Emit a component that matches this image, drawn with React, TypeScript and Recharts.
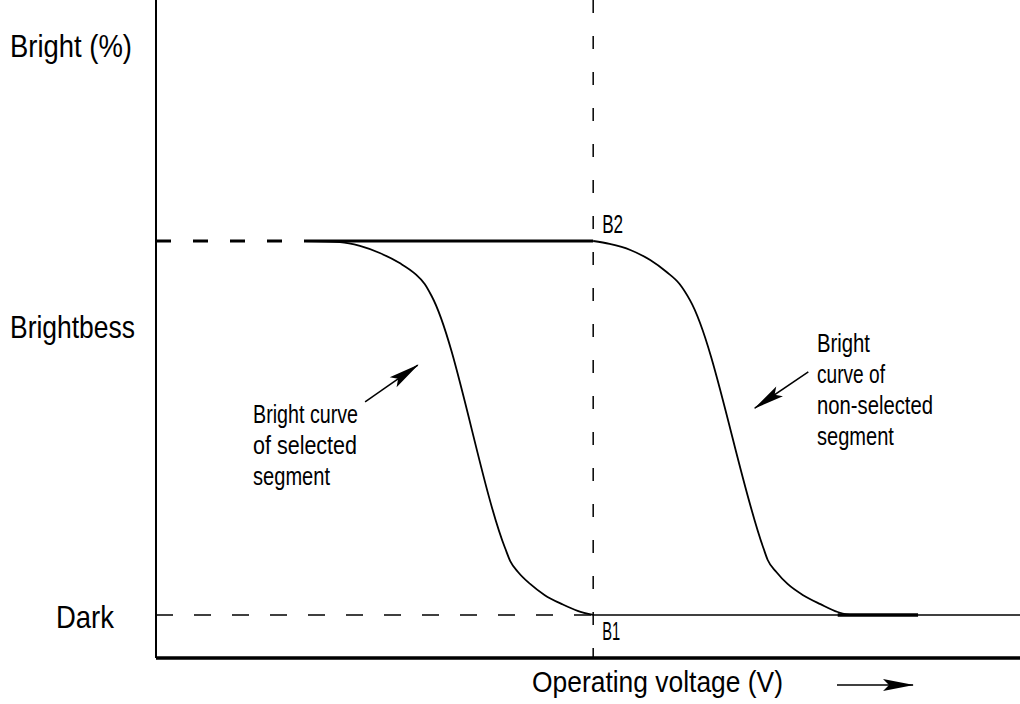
import React from 'react';
import { LineChart, Line, XAxis, YAxis, ReferenceLine, ReferenceDot } from 'recharts';

// Operating voltage (relative units, 0..100 across the plot) and brightness (Dark = 0, Bright = 100)
const selectedV = [17.25, 21.3, 23.6, 25.9, 28.2, 30.0, 31.1, 31.9, 40.4, 41.0, 41.9, 43.3, 45.0, 47.0, 48.8, 50.6];
const selectedB = [100, 99.7, 98.7, 96.8, 94.1, 91.2, 88.5, 85.3, 17.9, 14.4, 11.5, 8.3, 5.3, 2.9, 1.1, 0];

const nonSelectedV = [50.6, 52.5, 54.9, 57.2, 59.1, 60.6, 61.8, 70.3, 70.8, 71.8, 73.1, 74.9, 76.9, 78.9, 80.3];
const nonSelectedB = [100, 99.2, 97.6, 94.9, 91.7, 88.5, 84.2, 17.9, 14.7, 11.5, 8.3, 5.3, 2.9, 0.8, 0];

const brightPlateauV = [17.25, 50.6];
const brightPlateauB = [100, 100];

const darkPlateauV = [78.9, 88.2];
const darkPlateauB = [0, 0];

const arrowSelectedV = [24.2, 30.3];
const arrowSelectedB = [57.0, 66.8];

const arrowNonSelectedV = [75.5, 69.3];
const arrowNonSelectedB = [65.0, 55.3];

const selectionVoltage = 50.6;
const brightLevel = 100;
const darkLevel = 0;

const yTickValues = [0, 77.5];
const yTickLabels = ['Dark', 'Brightbess'];
const yAxisTitle = 'Bright (%)';
const xAxisTitle = 'Operating voltage (V)';

const selectedNote = ['Bright curve', 'of selected', 'segment'];
const selectedNoteAnchor = { v: 11.23, b: 51.3 };
const nonSelectedNote = ['Bright', 'curve of', 'non-selected', 'segment'];
const nonSelectedNoteAnchor = { v: 76.5, b: 70.3 };
const pointLabels = ['B2', 'B1'];

const pts = (vs: number[], bs: number[]) => vs.map((v, i) => ({ v, b: bs[i] }));

const FONT = "'Liberation Sans', Arial, sans-serif";

const textWidths: Record<string, number> = {
  'Bright curve': 105,
  'of selected': 104,
  segment: 77,
  Bright: 53,
  'curve of': 68,
  'non-selected': 116,
  B2: 21,
  B1: 18,
  Dark: 58,
  Brightbess: 125,
  'Bright (%)': 122,
  'Operating voltage (V)': 251,
};

const T = ({ x, y, text, size, width }: any) => (
  <text
    x={x}
    y={y}
    fontSize={size}
    fontFamily={FONT}
    fill="#000"
    textLength={width ?? textWidths[text]}
    lengthAdjust="spacingAndGlyphs"
  >
    {text}
  </text>
);

const YTick = (props: any) => {
  const { y, payload } = props;
  const i = yTickValues.indexOf(payload.value);
  const label = yTickLabels[i];
  const left = label === 'Dark' ? 56 : 10;
  return <T x={left} y={y + 13} text={label} size={32} />;
};

const YTitle = () => <T x={10} y={57} text={yAxisTitle} size={32} />;

const XTitle = (props: any) => {
  const vb = props.viewBox || { x: 156, y: 658, width: 864, height: 46 };
  const baseY = vb.y + 34;
  return (
    <g>
      <T x={532} y={baseY} text={xAxisTitle} size={29} />
      <line x1={837} y1={vb.y + 27} x2={913} y2={vb.y + 27} stroke="#000" strokeWidth={1.5} markerEnd="url(#dart)" />
    </g>
  );
};

const Note = ({ cx, cy, lines }: { cx: number; cy: number; lines: string[] }) => (
  <g>
    {lines.map((l, i) => (
      <T key={i} x={cx} y={cy + i * 31} text={l} size={25} />
    ))}
  </g>
);

export default function App() {
  return (
    <div style={{ position: 'absolute', left: 0, top: 0, background: '#fff' }}>
      <LineChart width={1020} height={704} margin={{ top: 0, right: 0, bottom: 0, left: 0 }}>
        <defs>
          <marker
            id="dart"
            markerUnits="userSpaceOnUse"
            markerWidth={40}
            markerHeight={20}
            viewBox="-35 -10 40 20"
            refX={0}
            refY={0}
            orient="auto"
            overflow="visible"
          >
            <path d="M1,0 L-30,-6 L-24,0 L-30,6 Z" fill="#000" />
          </marker>
        </defs>
        <XAxis
          type="number"
          dataKey="v"
          domain={[0, 100]}
          allowDataOverflow
          height={46}
          tick={false}
          tickLine={false}
          axisLine={{ stroke: '#000', strokeWidth: 3.5 }}
          label={{ content: (p: any) => <XTitle {...p} /> }}
        />
        <YAxis
          type="number"
          dataKey="b"
          domain={[-11.5, 164.44]}
          allowDataOverflow
          width={156}
          ticks={yTickValues}
          tick={<YTick />}
          tickLine={false}
          axisLine={{ stroke: '#000', strokeWidth: 2 }}
          label={{ content: () => <YTitle /> }}
        />

        <ReferenceLine
          segment={[{ x: 0, y: brightLevel }, { x: brightPlateauV[0], y: brightLevel }]}
          stroke="#000"
          strokeWidth={3}
          strokeDasharray="15 22"
          ifOverflow="visible"
        />
        <ReferenceLine
          segment={[{ x: 0, y: darkLevel }, { x: selectionVoltage, y: darkLevel }]}
          stroke="#000"
          strokeWidth={1.5}
          strokeDasharray="17 21"
          ifOverflow="visible"
        />
        <ReferenceLine
          segment={[{ x: selectionVoltage, y: darkLevel }, { x: 100, y: darkLevel }]}
          stroke="#000"
          strokeWidth={1.5}
          ifOverflow="visible"
        />
        <ReferenceLine
          segment={[{ x: selectionVoltage, y: 164.44 }, { x: selectionVoltage, y: -11.5 }]}
          stroke="#000"
          strokeWidth={1.5}
          strokeDasharray="13 23"
          ifOverflow="visible"
        />

        <Line data={pts(brightPlateauV, brightPlateauB)} dataKey="b" type="linear" stroke="#000" strokeWidth={3} dot={false} isAnimationActive={false} />
        <Line data={pts(selectedV, selectedB)} dataKey="b" type="monotone" stroke="#000" strokeWidth={1.8} dot={false} isAnimationActive={false} />
        <Line data={pts(nonSelectedV, nonSelectedB)} dataKey="b" type="monotone" stroke="#000" strokeWidth={1.8} dot={false} isAnimationActive={false} />
        <Line data={pts(darkPlateauV, darkPlateauB)} dataKey="b" type="linear" stroke="#000" strokeWidth={3.5} dot={false} isAnimationActive={false} />
        <Line data={pts(arrowSelectedV, arrowSelectedB)} dataKey="b" type="linear" stroke="#000" strokeWidth={1.5} dot={false} isAnimationActive={false} markerEnd="url(#dart)" />
        <Line data={pts(arrowNonSelectedV, arrowNonSelectedB)} dataKey="b" type="linear" stroke="#000" strokeWidth={1.5} dot={false} isAnimationActive={false} markerEnd="url(#dart)" />

        <ReferenceDot
          x={selectedNoteAnchor.v}
          y={selectedNoteAnchor.b}
          r={0}
          ifOverflow="visible"
          shape={(p: any) => <Note cx={p.cx} cy={p.cy} lines={selectedNote} />}
        />
        <ReferenceDot
          x={nonSelectedNoteAnchor.v}
          y={nonSelectedNoteAnchor.b}
          r={0}
          ifOverflow="visible"
          shape={(p: any) => <Note cx={p.cx} cy={p.cy} lines={nonSelectedNote} />}
        />
        <ReferenceDot
          x={selectionVoltage}
          y={brightLevel}
          r={0}
          ifOverflow="visible"
          shape={(p: any) => <T x={p.cx + 9} y={p.cy - 8} text={pointLabels[0]} size={25} />}
        />
        <ReferenceDot
          x={selectionVoltage}
          y={darkLevel}
          r={0}
          ifOverflow="visible"
          shape={(p: any) => <T x={p.cx + 9} y={p.cy + 25} text={pointLabels[1]} size={25} />}
        />
      </LineChart>
    </div>
  );
}
